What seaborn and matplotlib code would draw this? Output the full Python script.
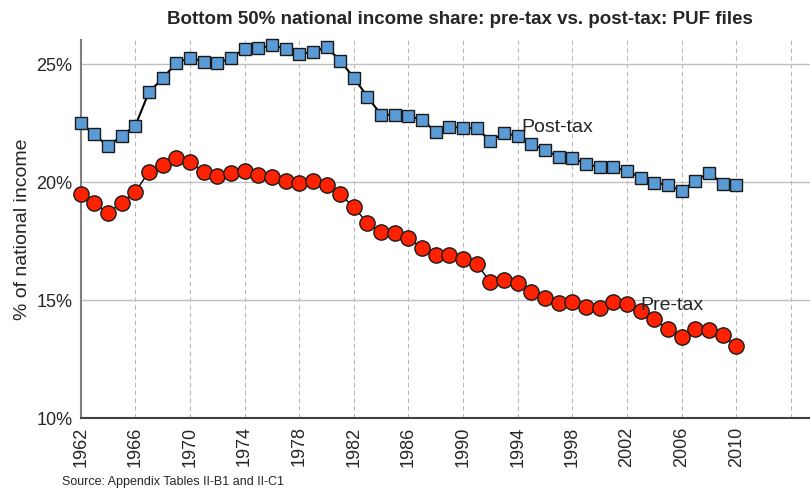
"""
Bottom 50% national income share: pre-tax vs. post-tax (PUF files)
"""
import numpy as np
import pandas as pd
import matplotlib
matplotlib.use("Agg")
import matplotlib.pyplot as plt
import seaborn as sns

# ── data ──────────────────────────────────────────────────────────────────────
years = list(range(1962, 2011))
post_tax = [22.49, 22.02, 21.51, 21.96, 22.39, 23.81, 24.39, 25.04, 25.27, 25.10,
            25.04, 25.24, 25.65, 25.66, 25.79, 25.65, 25.44, 25.50, 25.72, 25.14,
            24.42, 23.61, 22.85, 22.85, 22.81, 22.63, 22.13, 22.34, 22.30, 22.27,
            21.75, 22.06, 21.96, 21.60, 21.36, 21.06, 21.03, 20.76, 20.62, 20.62,
            20.47, 20.18, 19.97, 19.86, 19.63, 20.04, 20.40, 19.93, 19.89]
pre_tax = [19.51, 19.11, 18.69, 19.13, 19.58, 20.44, 20.71, 21.03, 20.85, 20.41,
           20.27, 20.37, 20.48, 20.28, 20.21, 20.03, 19.97, 20.06, 19.87, 19.49,
           18.93, 18.26, 17.88, 17.83, 17.63, 17.22, 16.92, 16.92, 16.75, 16.54,
           15.75, 15.83, 15.72, 15.33, 15.08, 14.86, 14.92, 14.70, 14.65, 14.92,
           14.82, 14.53, 14.18, 13.76, 13.43, 13.76, 13.72, 13.50, 13.05]
x_ticks = list(range(1962, 2011, 4))
y_ticks = [10, 15, 20, 25]

df = pd.DataFrame({"year": years, "post": post_tax, "pre": pre_tax})

sns.set_style("white")
plt.rcParams["font.family"] = ["Liberation Sans", "DejaVu Sans"]

fig = plt.figure(figsize=(8.1, 4.93), dpi=100)
ax = fig.add_axes([0.0996, 0.152, 0.9004, 0.767])

sns.lineplot(data=df, x="year", y="post", ax=ax, color="black", linewidth=1.5,
             marker="s", markersize=9, markerfacecolor="#5b9bd5",
             markeredgecolor="#1a1a1a", markeredgewidth=1.0, zorder=3, clip_on=False)
sns.lineplot(data=df, x="year", y="pre", ax=ax, color="black", linewidth=1.0,
             marker="o", markersize=11, markerfacecolor="#ff2200",
             markeredgecolor="#1a1a1a", markeredgewidth=1.0, zorder=3, clip_on=False)

ax.text(1994.3, 22.3, "Post-tax", fontsize=14, va="center", ha="left", zorder=4)
ax.text(2003.0, 14.75, "Pre-tax", fontsize=14, va="center", ha="left", zorder=4)

ax.set_xlim(1962, 2015.4)
ax.set_ylim(10, 26.02)
ax.set_xticks(x_ticks + [2014])
ax.set_xticklabels([str(y) for y in x_ticks] + [""], rotation=90, fontsize=13)
ax.set_yticks(y_ticks)
ax.set_yticklabels([f"{v}%" for v in y_ticks], fontsize=13)
ax.tick_params(axis="both", length=0, pad=6)

ax.grid(axis="y", color="#c0c0c0", linewidth=1.0, linestyle="-")
ax.grid(axis="x", color="#b8b8b8", linewidth=0.8, linestyle=(0, (4, 3)))
ax.set_axisbelow(True)

for s in ["top", "right"]:
    ax.spines[s].set_visible(False)
ax.spines["left"].set_color("#808080")
ax.spines["left"].set_linewidth(1.5)
ax.spines["bottom"].set_color("#404040")
ax.spines["bottom"].set_linewidth(1.5)

ax.set_xlabel("")
ax.set_ylabel("% of national income", fontsize=14)

fig.text(0.568, 0.96, "Bottom 50% national income share: pre-tax vs. post-tax: PUF files",
         ha="center", va="center", fontsize=13.5, fontweight="bold")
fig.text(0.077, 0.022, "Source: Appendix Tables II-B1 and II-C1", fontsize=9,
         ha="left", va="center")

plt.savefig("out.png", dpi=100)
plt.close()
